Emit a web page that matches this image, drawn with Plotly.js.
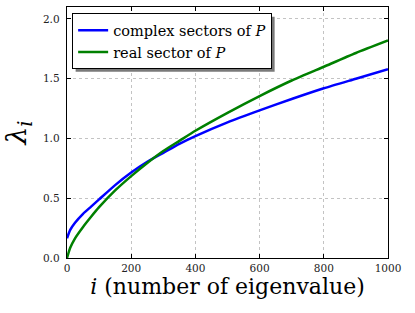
<!DOCTYPE html>
<html>
<head>
<meta charset="utf-8">
<script src="https://cdn.plot.ly/plotly-3.0.1.min.js"></script>
<style>html,body{margin:0;padding:0;background:#fff;}#chart{width:415px;height:313px;}</style>
</head>
<body>
<div id="chart"></div>
<script>
// Eigenvalue index (x)
const eigIndex = [0, 10, 25, 50, 75, 100, 150, 200, 250, 300, 350, 400, 500, 600, 700, 800, 900, 1000];
// complex sectors of P (blue)
const complexSectors = [0.165, 0.235, 0.295, 0.37, 0.43, 0.49, 0.61, 0.715, 0.805, 0.88, 0.955, 1.02, 1.135, 1.235, 1.33, 1.42, 1.50, 1.58];
// real sector of P (green)
const realSector = [0.0, 0.085, 0.165, 0.26, 0.345, 0.425, 0.565, 0.685, 0.795, 0.895, 0.98, 1.065, 1.215, 1.355, 1.485, 1.60, 1.715, 1.82];

const seriesNames = ['complex sectors of <i>P</i>', 'real sector of <i>P</i>'];
const xTicks = [0, 200, 400, 600, 800, 1000];
const yTicks = [0.0, 0.5, 1.0, 1.5, 2.0];

const serif = 'DejaVu Serif';

const traces = [
  {x: eigIndex, y: complexSectors, name: seriesNames[0], mode: 'lines',
   line: {color: '#0000ff', width: 2.5, shape: 'spline', smoothing: 0.6}},
  {x: eigIndex, y: realSector, name: seriesNames[1], mode: 'lines',
   line: {color: '#008000', width: 2.5, shape: 'spline', smoothing: 0.6}}
];

const axisCommon = {
  showline: true, linecolor: '#000', linewidth: 1.3, mirror: 'allticks',
  ticks: 'inside', ticklen: 4, tickcolor: '#000', tickwidth: 1,
  showgrid: true, gridcolor: '#bdbdbd', griddash: 'dot', gridwidth: 0.9,
  zeroline: false, tickfont: {family: serif, size: 10.5, color: '#222'}
};

const layout = {
  width: 415, height: 313,
  margin: {l: 67, r: 27, t: 7, b: 55},
  paper_bgcolor: '#fff', plot_bgcolor: '#fff',
  font: {family: serif},
  showlegend: true,
  legend: {x: 0.016, y: 0.975, xanchor: 'left', yanchor: 'top',
           bgcolor: '#fff', bordercolor: '#000', borderwidth: 1,
           font: {family: serif, size: 14.5, color: '#000'},
           itemwidth: 30, tracegroupgap: 0},
  xaxis: Object.assign({}, axisCommon, {
    range: [0, 1000], tickvals: xTicks, ticktext: xTicks.map(String),
    title: {text: '<i>i</i> (number of eigenvalue)', font: {family: serif, size: 22, color: '#000'}, standoff: 5}
  }),
  yaxis: Object.assign({}, axisCommon, {
    range: [0, 2.1], tickvals: yTicks, ticktext: yTicks.map(v => v.toFixed(1)),
    ticklabelstandoff: 4,
    title: {text: '<i>λ</i><sub><i>i</i></sub>', font: {family: serif, size: 28, color: '#000'}, standoff: 8}
  })
};

Plotly.newPlot('chart', traces, layout, {staticPlot: true, displayModeBar: false}).then(function (gd) {
  const bg = gd.querySelector('.legend .bg');
  if (!bg) return;
  const r = bg.getBoundingClientRect();
  const root = gd.getBoundingClientRect();
  const fl = gd._fullLayout;
  const pw = fl._size.w, ph = fl._size.h, ml = fl._size.l, mt = fl._size.t;
  const off = 3;
  const x0 = (r.left - root.left + off - ml) / pw;
  const x1 = (r.right - root.left + off - ml) / pw;
  const y0 = 1 - (r.bottom - root.top + off - mt) / ph;
  const y1 = 1 - (r.top - root.top + off - mt) / ph;
  Plotly.relayout(gd, {shapes: [{type: 'rect', xref: 'paper', yref: 'paper', x0: x0, x1: x1, y0: y0, y1: y1,
    fillcolor: '#7a7a7a', line: {width: 0}, layer: 'above'}]});
});
</script>
</body>
</html>
